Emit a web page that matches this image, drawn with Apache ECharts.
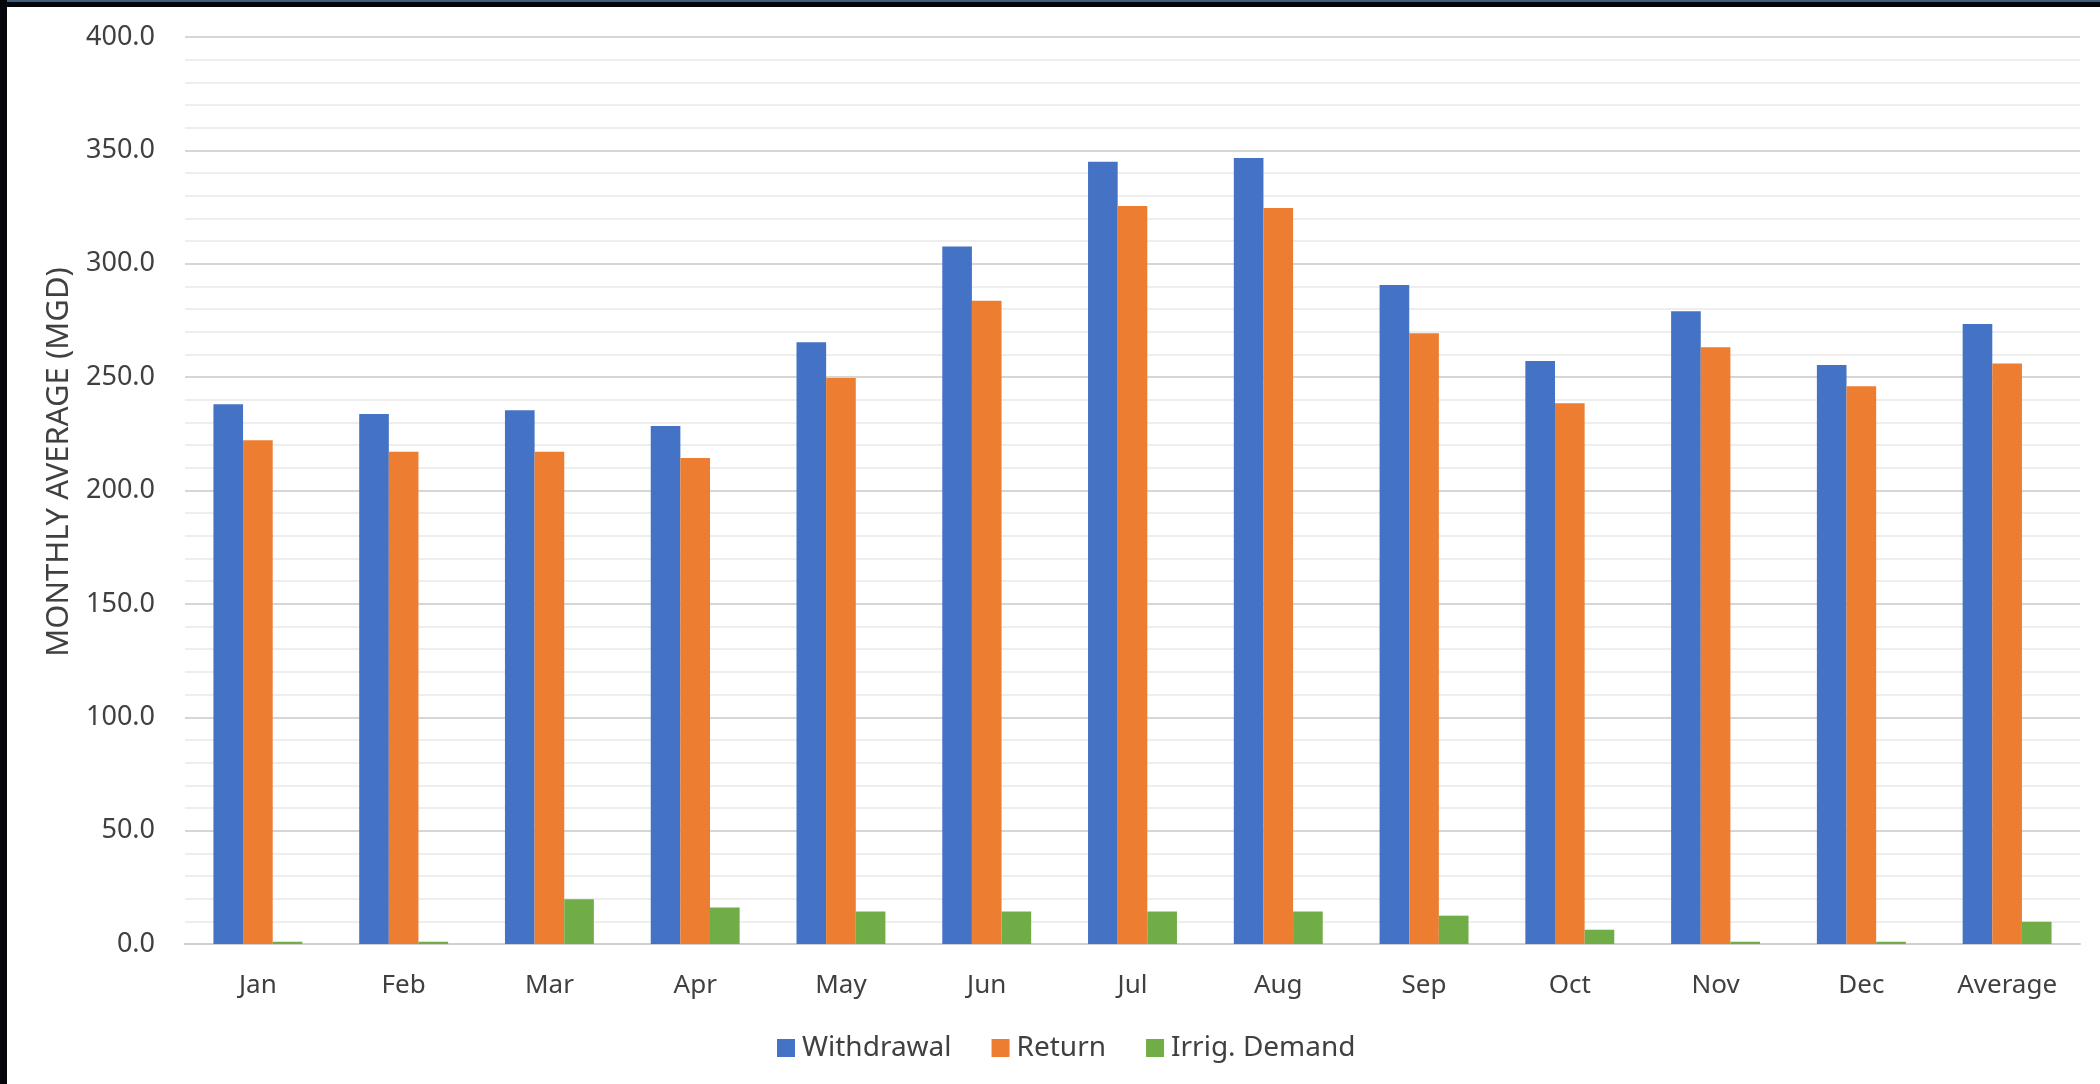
<!DOCTYPE html>
<html>
<head>
<meta charset="utf-8">
<script src="https://cdn.jsdelivr.net/npm/echarts@6/dist/echarts.min.js"></script>
<style>
  html, body { margin: 0; padding: 0; background: #ffffff; }
  #chart { width: 2100px; height: 1084px; }
</style>
</head>
<body>
<div id="chart"></div>
<script>
// Monthly water balance, million gallons per day
const categories = ['Jan', 'Feb', 'Mar', 'Apr', 'May', 'Jun', 'Jul', 'Aug', 'Sep', 'Oct', 'Nov', 'Dec', 'Average'];
const withdrawal = [238.0, 233.7, 235.4, 228.4, 265.4, 307.6, 345.0, 346.6, 290.6, 257.1, 279.1, 255.3, 273.4];
const returnFlow = [222.2, 217.1, 217.1, 214.3, 249.6, 283.7, 325.5, 324.6, 269.4, 238.5, 263.2, 246.0, 256.0];
const irrigDemand = [1.0, 1.0, 19.7, 16.1, 14.3, 14.3, 14.3, 14.3, 12.5, 6.3, 1.0, 1.0, 9.8];
const seriesNames = ['Withdrawal', 'Return', 'Irrig. Demand'];
const yTitle = 'MONTHLY AVERAGE (MGD)';
const yTicks = { min: 0, max: 400, step: 50 };

const FONT = 'Noto Sans';
const TEXT = '#404040';
const colors = ['#4472C4', '#ED7D31', '#70AD47'];

const chart = echarts.init(document.getElementById('chart'), null, { renderer: 'canvas' });

function barSeries(name, data, color) {
  return {
    name: name,
    type: 'bar',
    data: data,
    barGap: '0%',
    barCategoryGap: '39%',
    itemStyle: { color: color },
    emphasis: { disabled: true }
  };
}

chart.setOption({
  animation: false,
  backgroundColor: '#ffffff',
  textStyle: { fontFamily: FONT, color: TEXT },
  grid: { left: 185, right: 20, top: 37, bottom: 140, containLabel: false },
  legend: {
    data: seriesNames,
    left: 772,
    top: 1029,
    itemWidth: 18,
    itemHeight: 18,
    itemGap: 40,
    icon: 'rect',
    textStyle: { fontFamily: FONT, fontSize: 28, color: TEXT, padding: [0, 0, 0, 2] }
  },
  xAxis: {
    type: 'category',
    data: categories,
    axisLine: { show: true, lineStyle: { color: '#d0d0d0', width: 2 } },
    axisTick: { show: false },
    axisLabel: { fontFamily: FONT, fontSize: 26, color: TEXT, margin: 29 },
    splitLine: { show: false }
  },
  yAxis: {
    type: 'value',
    min: yTicks.min,
    max: yTicks.max,
    interval: yTicks.step,
    axisLine: { show: false },
    axisTick: { show: false },
    axisLabel: {
      fontFamily: FONT, fontSize: 27, color: TEXT, margin: 30,
      formatter: v => v.toFixed(1)
    },
    splitLine: { show: true, lineStyle: { color: '#d6d6d6', width: 2 } },
    minorTick: { show: false, splitNumber: 5 },
    minorSplitLine: { show: true, lineStyle: { color: '#eeeeee', width: 2 } }
  },
  series: [
    barSeries(seriesNames[0], withdrawal, colors[0]),
    barSeries(seriesNames[1], returnFlow, colors[1]),
    barSeries(seriesNames[2], irrigDemand, colors[2])
  ],
  graphic: [
    {
      type: 'text',
      x: 59,
      y: 462,
      rotation: Math.PI / 2,
      silent: true,
      style: {
        text: yTitle,
        fontFamily: FONT,
        fontSize: 31,
        fill: TEXT,
        align: 'center',
        verticalAlign: 'middle'
      }
    },
    { type: 'rect', left: 0, top: 0, shape: { width: 2100, height: 7 }, style: { fill: '#05070c' }, silent: true },
    { type: 'rect', left: 0, top: 0, shape: { width: 2100, height: 2 }, style: { fill: '#3d5f80' }, silent: true },
    { type: 'rect', left: 0, top: 0, shape: { width: 7, height: 1084 }, style: { fill: '#05070c' }, silent: true }
  ]
});
</script>
</body>
</html>
